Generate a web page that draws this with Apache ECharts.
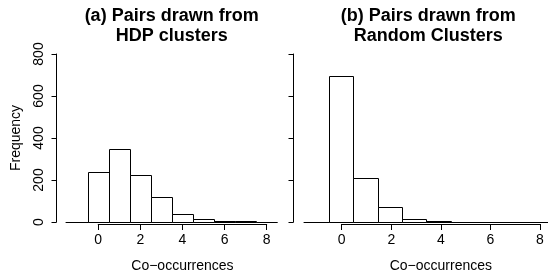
<!DOCTYPE html>
<html>
<head>
<meta charset="utf-8">
<script src="https://cdn.jsdelivr.net/npm/echarts@6.0.0/dist/echarts.min.js"></script>
<style>
  html, body { margin: 0; padding: 0; background: #fff; }
  #chart-container { width: 548px; height: 278px; }
</style>
</head>
<body>
<div id="chart-container"></div>
<script>
// bin centres (each bin is one unit wide)
var binCenters = [0, 1, 2, 3, 4, 5, 6, 7];
// (a) pairs drawn from HDP clusters
var hdpCounts = [236, 349, 225, 117, 37, 14, 7, 3];
// (b) pairs drawn from random clusters
var randomCounts = [693, 209, 70, 16, 4, 1, 0, 2];

var xTicks = [0, 2, 4, 6, 8];
var yTicks = [0, 200, 400, 600, 800];
var titles = ["(a) Pairs drawn from\nHDP clusters", "(b) Pairs drawn from\nRandom Clusters"];

var FONT = "Liberation Sans, Arial, Helvetica, sans-serif";
var myChart = echarts.init(document.getElementById("chart-container"));

function toPairs(counts) {
  return binCenters.map(function (c, i) { return [c, counts[i]]; });
}

// one histogram rectangle from (x-0.5, 0) to (x+0.5, count)
function histBar(params, api) {
  var x = api.value(0);
  var top = api.coord([x - 0.5, api.value(1)]);
  var bottom = api.coord([x + 0.5, 0]);
  var x0 = Math.round(top[0]) + 0.5;
  var x1 = Math.round(bottom[0]) + 0.5;
  var y0 = Math.round(top[1]) + 0.5;
  var y1 = Math.round(bottom[1]) + 0.5;
  return {
    type: "rect",
    shape: { x: x0, y: y0, width: x1 - x0, height: y1 - y0 },
    style: { fill: "#fff", stroke: "#000", lineWidth: 1 },
  };
}

var xMinPlot = -1.53, xMaxPlot = 8.5;

// plot panels + separate panels that only carry the 0..8 axis
var panels = [
  { plotLeft: 66, plotWidth: 211.3, axisLeft: 98.2, axisWidth: 168.5, yOffset: 9.5, showYLabels: true },
  { plotLeft: 304, plotWidth: 248.5, axisLeft: 341.7, axisWidth: 198.3, yOffset: 10.5, showYLabels: false },
];

var grid = [], xAxis = [], yAxis = [], title = [];
panels.forEach(function (p, i) {
  grid.push({ left: p.plotLeft, top: 54, width: p.plotWidth, height: 168 });
  grid.push({ left: p.axisLeft, top: 54, width: p.axisWidth, height: 168 });

  // plot x axis: only the baseline at 0
  xAxis.push({
    type: "value", gridIndex: 2 * i, min: xMinPlot, max: xMaxPlot,
    axisLine: { show: true, onZero: false, lineStyle: { color: "#000", width: 1 } },
    axisTick: { show: false }, axisLabel: { show: false }, splitLine: { show: false },
  });
  // the drawn x axis, offset below the baseline
  xAxis.push({
    type: "value", gridIndex: 2 * i + 1,
    min: xTicks[0], max: xTicks[xTicks.length - 1], interval: xTicks[1] - xTicks[0],
    offset: 7,
    axisLine: { show: true, onZero: false, lineStyle: { color: "#000", width: 1 } },
    axisTick: { show: true, length: 6, lineStyle: { color: "#000" } },
    axisLabel: { color: "#000", fontSize: 14, fontFamily: FONT, margin: 9 },
    splitLine: { show: false },
    name: "Co\u2212occurrences", nameLocation: "middle", nameGap: 35,
    nameTextStyle: { color: "#000", fontSize: 14, fontFamily: FONT },
  });

  yAxis.push({
    type: "value", gridIndex: 2 * i,
    min: yTicks[0], max: yTicks[yTicks.length - 1], interval: yTicks[1] - yTicks[0],
    offset: p.yOffset,
    axisLine: { show: true, onZero: false, lineStyle: { color: "#000", width: 1 } },
    axisTick: { show: true, length: 5, lineStyle: { color: "#000" } },
    axisLabel: { show: p.showYLabels, rotate: 90, color: "#000", fontSize: 14, fontFamily: FONT, margin: 10 },
    splitLine: { show: false },
    name: p.showYLabels ? "Frequency" : "", nameLocation: "middle", nameGap: 33, nameRotate: 90,
    nameTextStyle: { color: "#000", fontSize: 14, fontFamily: FONT },
  });
  yAxis.push({ type: "value", gridIndex: 2 * i + 1, min: 0, max: 800, show: false });

  title.push({
    text: titles[i], left: p.plotLeft + p.plotWidth / 2, top: 6, padding: 0, textAlign: "center",
    textStyle: { color: "#000", fontSize: 18, fontWeight: "bold", fontFamily: FONT, lineHeight: 20 },
  });
});

var option = {
  animation: false,
  backgroundColor: "#fff",
  title: title,
  grid: grid,
  xAxis: xAxis,
  yAxis: yAxis,
  series: [
    { type: "custom", xAxisIndex: 0, yAxisIndex: 0, renderItem: histBar, data: toPairs(hdpCounts) },
    { type: "custom", xAxisIndex: 2, yAxisIndex: 2, renderItem: histBar, data: toPairs(randomCounts) },
  ],
};

option && myChart.setOption(option);
</script>
</body>
</html>
